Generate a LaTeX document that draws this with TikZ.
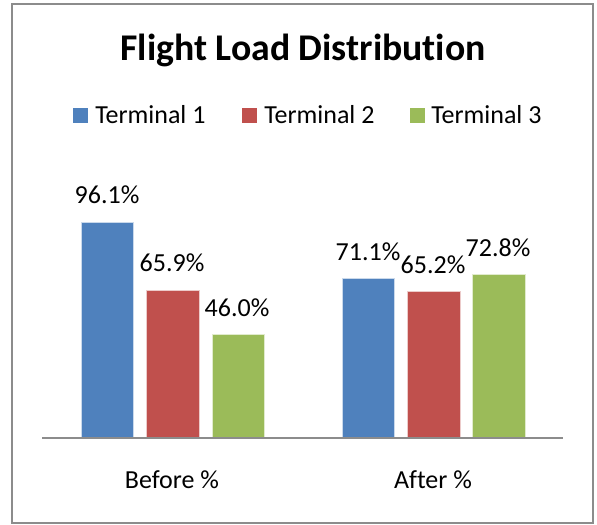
\documentclass[tikz,border=0pt]{standalone}
\usepackage{fontspec}
\setmainfont[RawFeature={-liga;-calt;-dlig}]{Carlito}
\definecolor{tone1}{HTML}{4F81BD}
\definecolor{tone2}{HTML}{C0504D}
\definecolor{tone3}{HTML}{9BBB59}
\definecolor{framegray}{HTML}{8C8C8C}
\begin{document}
\begin{tikzpicture}[x=0.75pt,y=-0.75pt,
  lbl/.style={font=\fontsize{19.5}{22}\selectfont, inner sep=0pt},
  bar/.style={draw=white!70!#1, line width=0.5pt, fill=#1},
  key/.style={fill=#1, minimum size=11.25pt, inner sep=0pt}]
\useasboundingbox (0,0) rectangle (597,525);
% chart frame
\draw[framegray, line width=1.6pt] (12,4) rectangle (593,523);
% title (kern keeps "t" and "i" apart)
\node[font=\fontsize{28.3}{32}\bfseries\selectfont, inner sep=0pt] (title) at (303,50) {Flight Load Distribut\kern0pt ion};
% legend
\node[key=tone1] (k1) at (80,115) {};
\node[lbl, anchor=west] (t1) at (95,115) {Terminal 1};
\node[key=tone2] (k2) at (249.5,115) {};
\node[lbl, anchor=west] (t2) at (264,115) {Terminal 2};
\node[key=tone3] (k3) at (417.5,115) {};
\node[lbl, anchor=west] (t3) at (431,115) {Terminal 3};
% bars: before
\draw[bar=tone1] (81.5,437.7) rectangle (133.7,222.3);
\draw[bar=tone2] (146.7,437.7) rectangle (199,290);
\draw[bar=tone3] (212,437.7) rectangle (264,334.7);
% bars: after
\draw[bar=tone1] (342.7,437.7) rectangle (394.7,278.3);
\draw[bar=tone2] (407.7,437.7) rectangle (460,291.7);
\draw[bar=tone3] (472.7,437.7) rectangle (525,274.3);
% value labels
\node[lbl] (v1) at (107,195) {96.1\%};
\node[lbl] (v2) at (172,263) {65.9\%};
\node[lbl] (v3) at (237,308) {46.0\%};
\node[lbl] (v4) at (368,252) {71.1\%};
\node[lbl] (v5) at (433,265) {65.2\%};
\node[lbl] (v6) at (498,248) {72.8\%};
% category axis
\draw[framegray, line width=1.5pt] (42,437.7) -- (563,437.7);
\node[lbl] (c1) at (172,480) {Before \%};
\node[lbl] (c2) at (433,480) {After \%};
\end{tikzpicture}
\end{document}
